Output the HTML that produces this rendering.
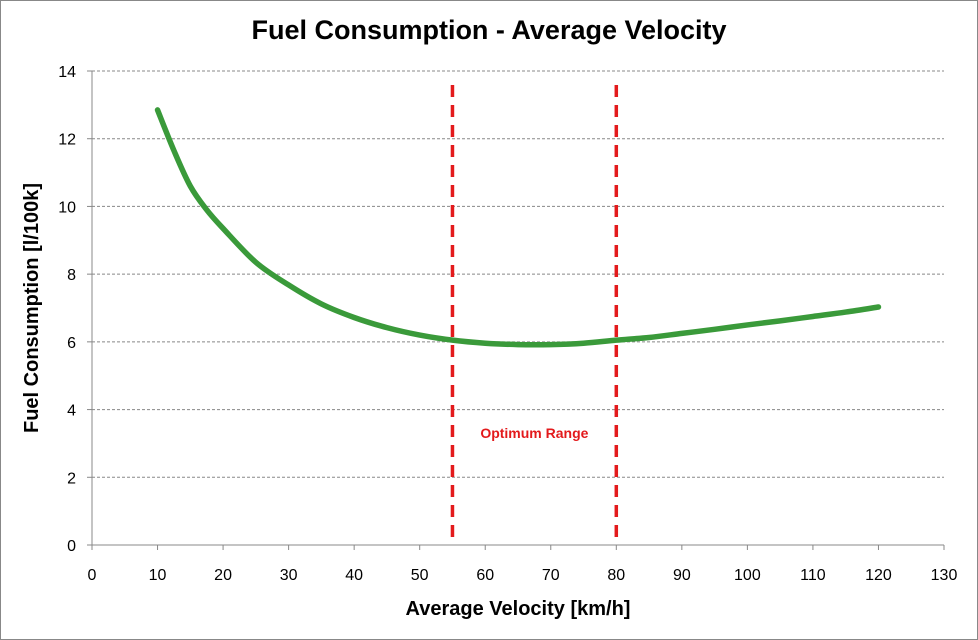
<!DOCTYPE html>
<html><head><meta charset="utf-8"><style>
body{margin:0;background:#fff;}
svg{display:block;font-family:"Liberation Sans",sans-serif;}
</style></head><body>
<svg id="chart" width="978" height="640">
<rect x="0.5" y="0.5" width="977" height="639" fill="#fff" stroke="#888"/>
<text x="489" y="39" text-anchor="middle" font-size="27" font-weight="bold" fill="#000">Fuel Consumption - Average Velocity</text>
<text x="518" y="615" text-anchor="middle" font-size="20" font-weight="bold">Average Velocity [km/h]</text>
<text transform="translate(38,308) rotate(-90)" text-anchor="middle" font-size="20" font-weight="bold">Fuel Consumption [l/100k]</text>
<g id="grid"></g><g id="axes"></g><g id="marks"></g>
</svg>
<script>
const xVals=[10,12.5,15,17.5,20,25,30,35,40,45,50,55,60,65,70,75,80,85,90,95,100,105,110,115,120];
const yVals=[12.85,11.65,10.6,9.9,9.35,8.35,7.68,7.12,6.72,6.42,6.2,6.05,5.96,5.92,5.92,5.96,6.05,6.13,6.25,6.37,6.5,6.62,6.75,6.88,7.03];
const xTicks=[0,10,20,30,40,50,60,70,80,90,100,110,120,130];
const yTicks=[0,2,4,6,8,10,12,14];
const rangeLines=[55,80];
const rangeLabel="Optimum Range";
const X=v=>92+v*(944-92)/130, Y=v=>545-v*(545-71)/14;
const NS="http://www.w3.org/2000/svg";
function mk(p,t,a){const e=document.createElementNS(NS,t);for(const k in a)e.setAttribute(k,a[k]);p.appendChild(e);return e;}
const g=document.getElementById('grid'),ax=document.getElementById('axes'),m=document.getElementById('marks');
yTicks.forEach(t=>{
 if(t>0){const l=mk(g,'line',{x1:92,x2:944,y1:Y(t),y2:Y(t),stroke:'#888','stroke-dasharray':'3,2'});
 
 }
 const tk=mk(ax,'line',{x1:87,x2:92,y1:Y(t),y2:Y(t),stroke:'#888'});
 
 
 const tx=mk(ax,'text',{x:76,y:Y(t)+6,'text-anchor':'end','font-size':16});tx.textContent=t;
 
 
});
xTicks.forEach(t=>{
 const tk=mk(ax,'line',{x1:X(t),x2:X(t),y1:545,y2:550,stroke:'#888'});
 
 
 const tx=mk(ax,'text',{x:X(t),y:580,'text-anchor':'middle','font-size':16});tx.textContent=t;
 
 
});
const ya=mk(ax,'line',{x1:92,x2:92,y1:71,y2:545,stroke:'#888'});


const xa=mk(ax,'line',{x1:92,x2:944,y1:545,y2:545,stroke:'#888'});


rangeLines.forEach(v=>{
 const l=mk(m,'line',{x1:X(v),x2:X(v),y1:85,y2:545,stroke:'#e31a1c','stroke-width':3.5,'stroke-dasharray':'12,8'});
 
 
});
const lbl=mk(m,'text',{x:(X(rangeLines[0])+X(rangeLines[1]))/2,y:438,'text-anchor':'middle','font-size':14,'font-weight':'bold',fill:'#e31a1c'});
lbl.textContent=rangeLabel;


const P=xVals.map((x,i)=>[X(x),Y(yVals[i])]);
let d='M'+P[0][0]+','+P[0][1];
for(let i=0;i<P.length-1;i++){
 const p0=P[Math.max(i-1,0)],p1=P[i],p2=P[i+1],p3=P[Math.min(i+2,P.length-1)];
 d+='C'+(p1[0]+(p2[0]-p0[0])/6)+','+(p1[1]+(p2[1]-p0[1])/6)+' '+(p2[0]-(p3[0]-p1[0])/6)+','+(p2[1]-(p3[1]-p1[1])/6)+' '+p2[0]+','+p2[1];
}
const p=mk(m,'path',{d:d,fill:'none',stroke:'#3a9a3a','stroke-width':5.5,'stroke-linejoin':'round','stroke-linecap':'round'});


</script>
</body></html>
